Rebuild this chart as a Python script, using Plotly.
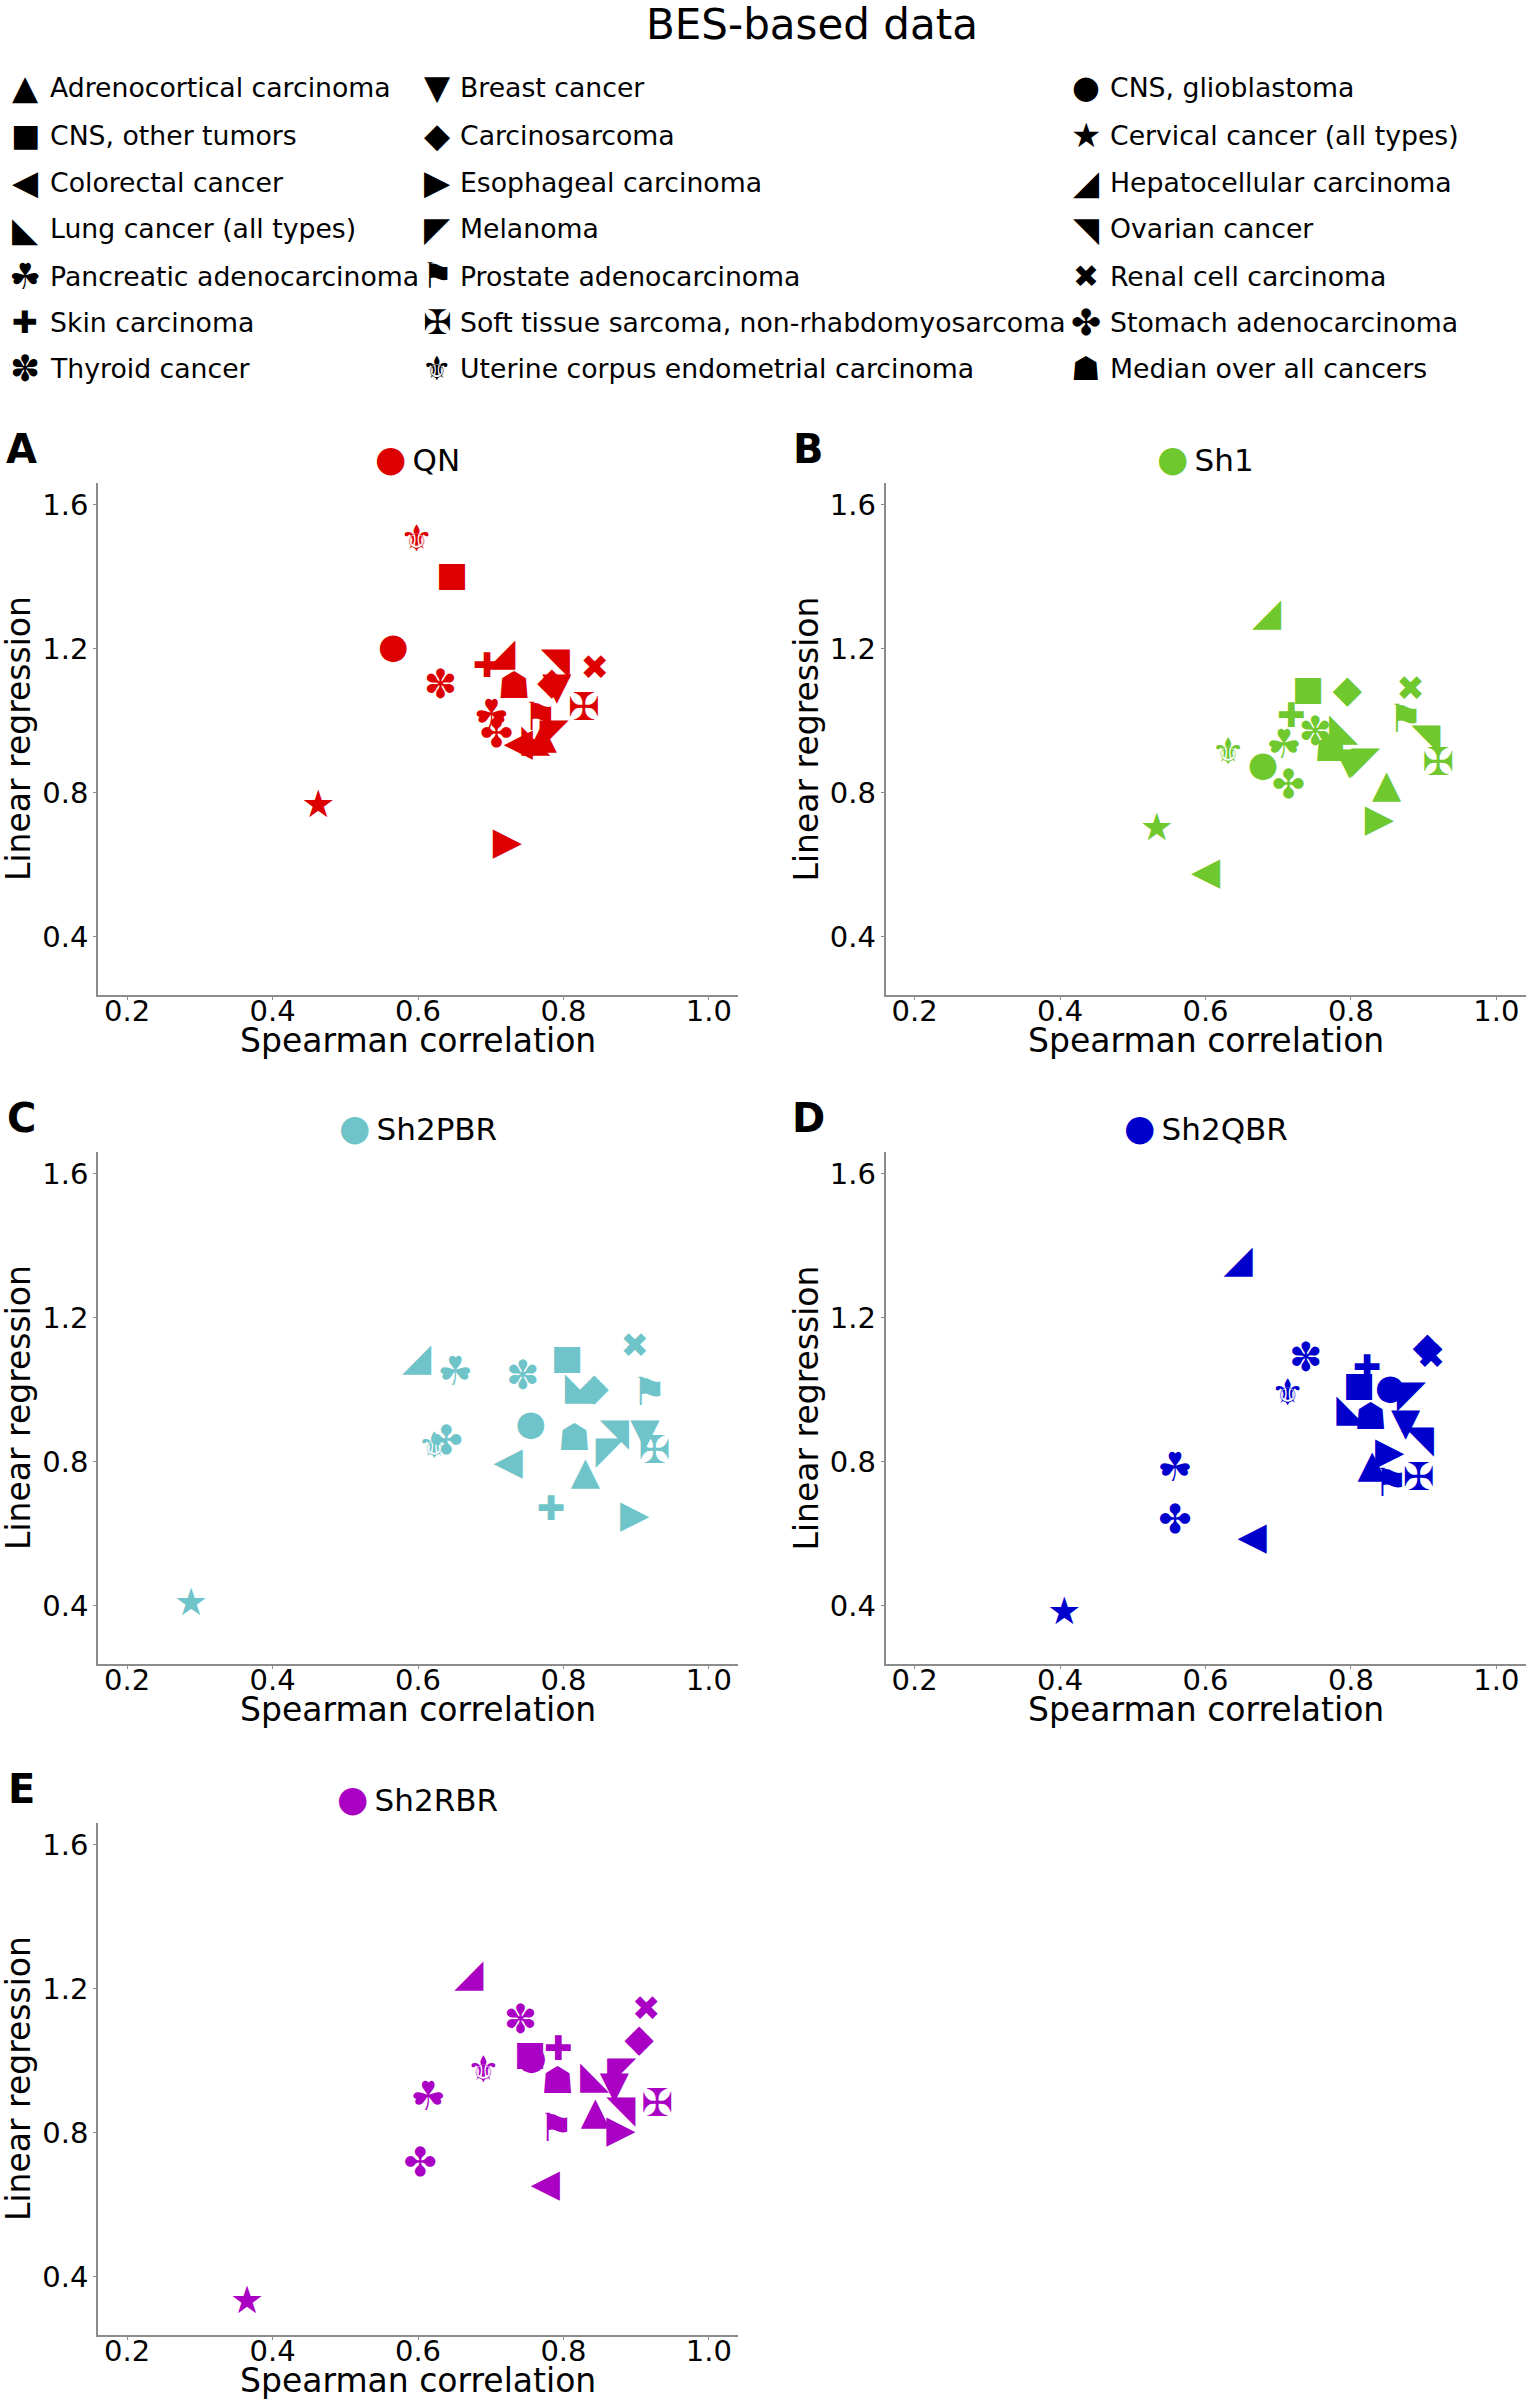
import plotly.graph_objects as go

# cancer types, in legend order, and the glyph used for each
categories = [
    "Adrenocortical carcinoma", "Breast cancer", "CNS, glioblastoma",
    "CNS, other tumors", "Carcinosarcoma", "Cervical cancer (all types)",
    "Colorectal cancer", "Esophageal carcinoma", "Hepatocellular carcinoma",
    "Lung cancer (all types)", "Melanoma", "Ovarian cancer",
    "Pancreatic adenocarcinoma", "Prostate adenocarcinoma", "Renal cell carcinoma",
    "Skin carcinoma", "Soft tissue sarcoma, non-rhabdomyosarcoma", "Stomach adenocarcinoma",
    "Thyroid cancer", "Uterine corpus endometrial carcinoma", "Median over all cancers",
]
glyphs = ["▲", "▼", "●", "■", "◆", "★", "◀", "▶", "◢", "◣", "◤", "◥",
          "☘", "⚑", "✖", "✚", "✠", "✤", "✽", "⚜", "☗"]

panel_names = ["QN", "Sh1", "Sh2PBR", "Sh2QBR", "Sh2RBR"]
panel_letters = ["A", "B", "C", "D", "E"]
panel_colors = ["#dc0000", "#6fc82e", "#6fc4ca", "#0000cc", "#aa00c3"]

# Spearman correlation (x) and linear regression slope (y), one value per cancer type
qn_x = [0.771, 0.791, 0.566, 0.647, 0.784, 0.463, 0.738, 0.723, 0.714, 0.762, 0.787,
        0.789, 0.701, 0.768, 0.843, 0.695, 0.828, 0.708, 0.631, 0.598, 0.732]
qn_y = [0.951, 1.087, 1.199, 1.396, 1.101, 0.758, 0.930, 0.656, 1.181, 0.941, 0.957,
        1.155, 1.008, 1.001, 1.140, 1.145, 1.028, 0.953, 1.090, 1.497, 1.088]

sh1_x = [0.849, 0.798, 0.679, 0.741, 0.795, 0.533, 0.600, 0.839, 0.684, 0.790, 0.820,
         0.903, 0.708, 0.875, 0.882, 0.718, 0.920, 0.714, 0.751, 0.631, 0.772]
sh1_y = [0.815, 0.877, 0.870, 1.080, 1.078, 0.695, 0.572, 0.718, 1.292, 0.973, 0.880,
         0.943, 0.924, 0.994, 1.080, 1.005, 0.874, 0.812, 0.959, 0.906, 0.912]

sh2pbr_x = [0.830, 0.912, 0.755, 0.805, 0.842, 0.288, 0.724, 0.898, 0.598, 0.822, 0.864,
            0.870, 0.651, 0.918, 0.898, 0.783, 0.925, 0.639, 0.744, 0.622, 0.815]
sh2pbr_y = [0.765, 0.872, 0.899, 1.080, 0.996, 0.400, 0.791, 0.645, 1.080, 1.001, 0.823,
            0.872, 1.039, 0.983, 1.113, 0.662, 0.823, 0.849, 1.028, 0.835, 0.858]

sh2qbr_x = [0.829, 0.875, 0.854, 0.811, 0.905, 0.406, 0.664, 0.853, 0.645, 0.800, 0.883,
            0.894, 0.558, 0.855, 0.910, 0.822, 0.893, 0.558, 0.738, 0.713, 0.827]
sh2qbr_y = [0.784, 0.901, 0.997, 1.006, 1.111, 0.374, 0.582, 0.820, 1.352, 0.940, 0.978,
            0.853, 0.774, 0.732, 1.084, 1.052, 0.748, 0.628, 1.078, 0.983, 0.917]

sh2rbr_x = [0.844, 0.870, 0.756, 0.754, 0.904, 0.365, 0.775, 0.879, 0.670, 0.843, 0.880,
            0.879, 0.614, 0.790, 0.914, 0.793, 0.929, 0.603, 0.741, 0.690, 0.792]
sh2rbr_y = [0.851, 0.923, 1.000, 1.011, 1.053, 0.325, 0.649, 0.800, 1.233, 0.951, 0.965,
            0.856, 0.889, 0.803, 1.136, 1.025, 0.871, 0.707, 1.104, 0.967, 0.935]

xs = [qn_x, sh1_x, sh2pbr_x, sh2qbr_x, sh2rbr_x]
ys = [qn_y, sh1_y, sh2pbr_y, sh2qbr_y, sh2rbr_y]

W, H = 1532, 2405
FONT = "DejaVu Sans"
AXIS_GREY = "#8c8c8c"

# glyph font sizes so the symbols come out roughly the same size
glyph_size = {"▲": 38, "▼": 38, "●": 35, "■": 34, "◆": 38, "★": 38, "◀": 38, "▶": 38,
              "◢": 38, "◣": 38, "◤": 38, "◥": 38, "☘": 40, "⚑": 39, "✖": 34, "✚": 34,
              "✠": 38, "✤": 40, "✽": 40, "⚜": 37, "☗": 37}
sizes = [glyph_size[g] for g in glyphs]

# plot boxes in pixels: (left, right, top, bottom)
boxes = [(98, 738, 483, 995), (885.5, 1525.5, 483, 995),
         (98, 738, 1152, 1664), (885.5, 1525.5, 1152, 1664),
         (98, 738, 1823, 2335)]


def px(x):
    return x / W


def py(y):
    return 1 - y / H


fig = go.Figure()
annotations = []

for i, name in enumerate(panel_names):
    sfx = "" if i == 0 else str(i + 1)
    left, right, top, bottom = boxes[i]
    fig.add_trace(go.Scatter(
        x=xs[i], y=ys[i], mode="text", text=glyphs,
        textposition="middle center",
        textfont=dict(family=FONT, size=sizes, color=panel_colors[i]),
        hovertext=categories, hoverinfo="text+x+y",
        xaxis="x" + sfx, yaxis="y" + sfx, showlegend=False, cliponaxis=False,
    ))
    fig.layout["xaxis" + sfx] = dict(
        domain=[px(left), px(right)], range=[0.16, 1.04], anchor="y" + sfx,
        tickvals=[0.2, 0.4, 0.6, 0.8, 1.0], tickformat=".1f",
        showline=True, linecolor=AXIS_GREY, linewidth=1.5, showgrid=False, zeroline=False,
        ticks="outside", ticklen=3, tickcolor=AXIS_GREY, ticklabelstandoff=-14,
        tickfont=dict(family=FONT, size=29, color="black"),
    )
    fig.layout["yaxis" + sfx] = dict(
        domain=[py(bottom), py(top)], range=[0.237, 1.66], anchor="x" + sfx,
        tickvals=[0.4, 0.8, 1.2, 1.6], tickformat=".1f",
        showline=True, linecolor=AXIS_GREY, linewidth=1.5, showgrid=False, zeroline=False,
        ticks="outside", ticklen=3, tickcolor=AXIS_GREY, ticklabelstandoff=-1,
        tickfont=dict(family=FONT, size=29, color="black"),
    )
    cx = (left + right) / 2
    # panel title with coloured dot
    annotations.append(dict(
        x=px(cx), y=py(top - 25), xref="paper", yref="paper", showarrow=False,
        xanchor="center", yanchor="middle",
        text='<span style="color:%s;font-size:36px">●</span>\u2009%s' % (panel_colors[i], name),
        font=dict(family=FONT, size=31, color="black"),
    ))
    # panel letter
    annotations.append(dict(
        x=px(left - 77), y=py(top - 34), xref="paper", yref="paper", showarrow=False,
        xanchor="center", yanchor="middle", text="<b>%s</b>" % panel_letters[i],
        font=dict(family=FONT, size=40, color="black"),
    ))
    # axis titles
    annotations.append(dict(
        x=px(cx), y=py(bottom + 45), xref="paper", yref="paper", showarrow=False,
        xanchor="center", yanchor="middle", text="Spearman correlation",
        font=dict(family=FONT, size=33, color="black"),
    ))
    annotations.append(dict(
        x=px(left - 80), y=py((top + bottom) / 2), xref="paper", yref="paper",
        showarrow=False, textangle=-90, xanchor="center", yanchor="middle",
        text="Linear regression", font=dict(family=FONT, size=33, color="black"),
    ))

# legend of cancer types, three columns filled row by row
col_glyph_x = [25, 437, 1086]
col_text_x = [47.5, 458, 1108]
row_y = [87, 135, 182, 229, 276, 322, 369]
for k, (g, name) in enumerate(zip(glyphs, categories)):
    r, c = divmod(k, 3)
    annotations.append(dict(
        x=px(col_glyph_x[c]), y=py(row_y[r]), xref="paper", yref="paper", showarrow=False,
        xanchor="center", yanchor="middle", text=g,
        font=dict(family=FONT, size=round(glyph_size[g] * 0.9), color="black"),
    ))
    annotations.append(dict(
        x=px(col_text_x[c]), y=py(row_y[r]), xref="paper", yref="paper", showarrow=False,
        xanchor="left", yanchor="middle", text=name,
        font=dict(family=FONT, size=26.7, color="black"),
    ))

annotations.append(dict(
    x=px(812), y=py(25), xref="paper", yref="paper", showarrow=False,
    xanchor="center", yanchor="middle", text="BES-based data",
    font=dict(family=FONT, size=42, color="black"),
))

fig.update_layout(
    width=W, height=H, margin=dict(l=0, r=0, t=0, b=0),
    paper_bgcolor="white", plot_bgcolor="white",
    annotations=annotations, showlegend=False,
)

fig.write_html("out.html", config={"displayModeBar": False},
               post_script="document.body.style.margin='0px';"
                           "document.body.style.overflow='hidden';")
